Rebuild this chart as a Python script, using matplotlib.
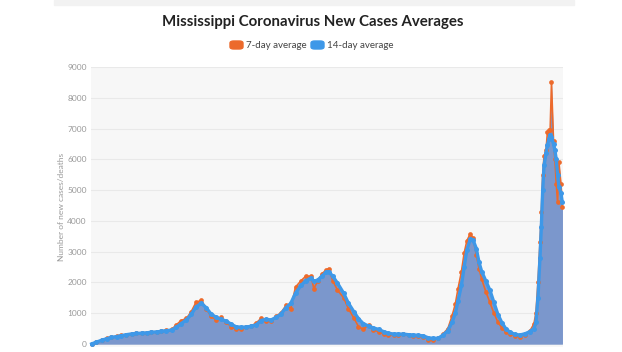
import matplotlib.pyplot as plt
from matplotlib.patches import FancyBboxPatch, Rectangle

# day index since first report
days = [0, 7, 15, 22, 29, 37, 44, 51, 59, 66, 74, 81, 88, 96, 103, 110, 118, 125,
        132, 140, 147, 154, 162, 169, 176, 184, 191, 199, 206, 213, 221, 228, 235,
        243, 250, 257, 265, 272, 279, 287, 294, 301, 309, 316, 324, 328, 334, 340,
        346, 350, 356, 363, 372, 379, 387, 394, 401, 409, 416, 424, 431, 438, 446,
        453, 460, 468, 475, 482, 490, 497, 504, 512, 519, 526, 532, 537, 541, 546,
        550, 554, 559, 563, 568, 572, 576, 582, 588, 594, 600, 606, 612, 618, 625,
        632, 640, 647, 653, 656, 659, 662, 664, 666, 668, 671, 673, 675, 677, 679,
        682, 684, 686, 688, 690, 693, 695]

avg14 = [0, 60, 120, 170, 210, 240, 270, 300, 325, 340, 350, 360, 380, 390, 410, 430,
         450, 540, 660, 780, 960, 1200, 1320, 1180, 980, 860, 800, 740, 640, 560, 540,
         550, 570, 620, 760, 800, 780, 860, 960, 1180, 1320, 1650, 1900, 2050, 2140,
         2030, 2080, 2200, 2330, 2350, 2200, 1975, 1650, 1330, 1050, 820, 660, 580,
         520, 470, 400, 350, 320, 320, 320, 300, 290, 280, 260, 200, 180, 185, 290,
         430, 700, 1000, 1400, 1900, 2500, 3050, 3400, 3390, 3100, 2650, 2350, 2050,
         1750, 1350, 950, 680, 480, 380, 310, 290, 330, 400, 500, 700, 1500, 2800,
         3800, 5000, 5800, 6200, 6450, 6650, 6800, 6720, 6500, 6300, 6000, 5500, 5100,
         4900, 4600]

avg7 = [0, 70, 130, 180, 220, 250, 275, 300, 320, 345, 355, 370, 385, 400, 420, 440,
        470, 620, 760, 830, 1050, 1350, 1420, 1150, 900, 780, 860, 700, 560, 480, 500,
        540, 580, 680, 830, 760, 760, 900, 1000, 1250, 1150, 1850, 2050, 2200, 2200,
        1800, 2050, 2280, 2400, 2450, 2050, 1750, 1500, 1150, 850, 560, 480, 620, 450,
        400, 330, 300, 290, 300, 310, 280, 270, 260, 230, 140, 130, 180, 330, 500, 900,
        1300, 1800, 2350, 2950, 3350, 3580, 3450, 2900, 2450, 2100, 1700, 1350, 1000,
        700, 520, 380, 330, 270, 240, 300, 420, 650, 1000, 2000, 3300, 4300, 5500,
        6100, 6300, 6900, 6950, 6950, 8500, 6600, 6000, 5200, 4600, 5900, 5200, 4450]

y_ticks = [0, 1000, 2000, 3000, 4000, 5000, 6000, 7000, 8000, 9000]

orange = '#ec6a2c'
blue = '#3e98e8'
fill = '#7b97cc'

plt.rcParams['font.family'] = ['Lato', 'DejaVu Sans']

fig = plt.figure(figsize=(6.22, 3.52), dpi=100)
fig.patches.append(Rectangle((54 / 622, 1 - 5 / 352), 520 / 622, 5 / 352,
                             transform=fig.transFigure, color='#f2f2f2', zorder=0))

ax = fig.add_axes([91 / 622, 5 / 352, 472 / 622, 280 / 352])
ax.set_facecolor('#f7f7f7')

ax.fill_between(days, avg7, color=fill, lw=0, zorder=1)
ax.fill_between(days, avg14, color=fill, lw=0, zorder=1)
ax.plot(days, avg7, color=orange, lw=1.2, marker='o', ms=3.4, mew=0, zorder=2,
        clip_on=False)
ax.plot(days, avg14, color=blue, lw=2.4, marker='o', ms=3.6, mew=0, zorder=3,
        clip_on=False)

ax.set_xlim(-1, 696)
ax.set_ylim(-100, 9000)
ax.set_yticks(y_ticks)
ax.set_yticklabels([str(t) for t in y_ticks], fontsize=6, color='#999999')
ax.set_xticks([])
ax.tick_params(axis='y', length=0, pad=3)
ax.grid(axis='y', color='#e9e9e9', lw=0.8)
ax.set_axisbelow(True)
for s in ax.spines.values():
    s.set_visible(False)
ax.set_ylabel('Number of new cases/deaths', fontsize=6, color='#999999', labelpad=2)

fig.text(0.503, 1 - 22 / 352, 'Mississippi Coronavirus New Cases Averages',
         ha='center', va='center', fontsize=10.8, fontweight='bold', color='#222222')

# legend
for x0, col, label in [(230, orange, '7-day average'), (311, blue, '14-day average')]:
    fig.patches.append(FancyBboxPatch((x0 / 622, 1 - 49 / 352), 13 / 622, 8 / 352,
                                      boxstyle='round,pad=0,rounding_size=0.006',
                                      transform=fig.transFigure, color=col))
    fig.text((x0 + 16) / 622, 1 - 45 / 352, label, ha='left', va='center',
             fontsize=7, color='#444444')

fig.savefig('out.png', dpi=100)
